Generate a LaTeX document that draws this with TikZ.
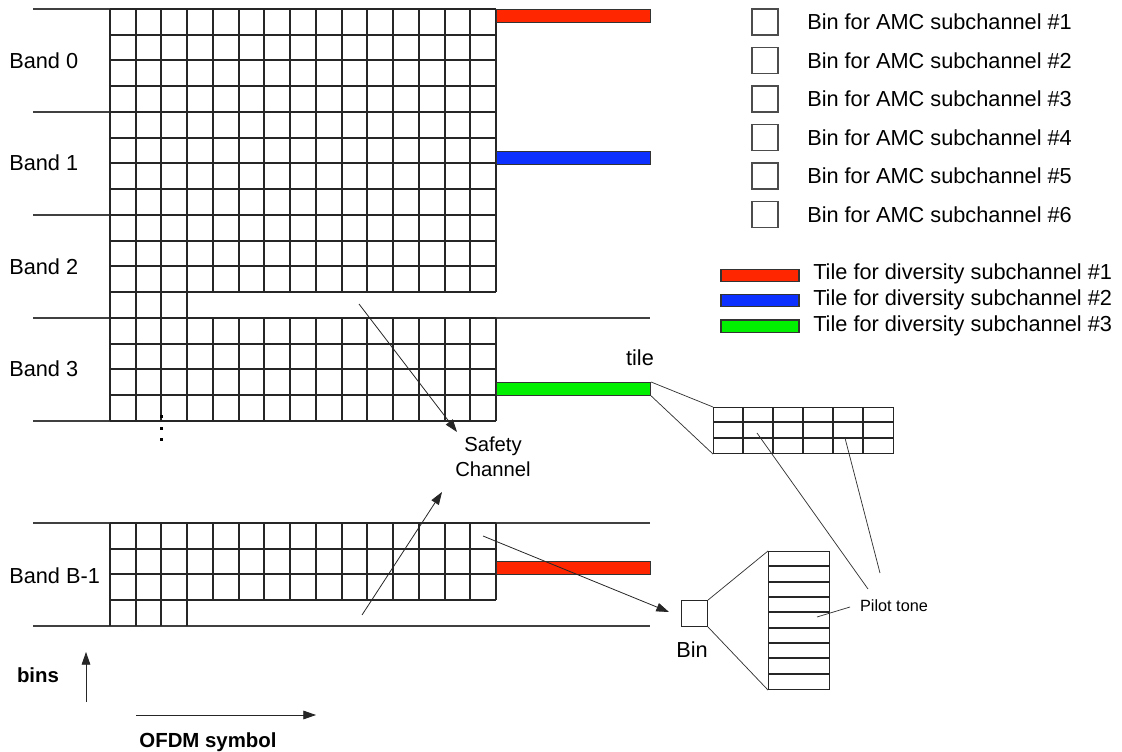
\documentclass[tikz,border=0pt]{standalone}
\usepackage{fontspec}
\setmainfont{Liberation Sans}
\usepackage{xcolor}
\definecolor{tilered}{RGB}{255,38,0}
\definecolor{tileblue}{RGB}{12,48,255}
\definecolor{tilegreen}{RGB}{0,240,0}
\usepackage{tikz}
\usetikzlibrary{
    arrows.meta,
    positioning
}
\tikzset{
    cellgrid/.style  = {draw=black!85, line width=0.95pt},
    bandline/.style  = {draw=black!75, line width=0.8pt},
    tilebar/.style   = {rectangle, draw=black!80, line width=0.8pt, inner sep=0pt,
                        minimum width=115.5pt, minimum height=9.6pt, anchor=north west},
    legbar/.style    = {rectangle, draw=black!80, line width=0.8pt, inner sep=0pt,
                        minimum width=58.5pt, minimum height=9.4pt},
    legbox/.style    = {rectangle, draw=black!70, line width=0.8pt, inner sep=0pt,
                        minimum size=19.5pt},
    zoombox/.style   = {rectangle, draw=black!85, line width=0.8pt, inner sep=0pt,
                        anchor=north west},
    zoomgrid/.style  = {draw=black!85, line width=0.8pt},
    zoomline/.style  = {draw=black!80, line width=0.55pt},
    thinarrow/.style = {-{Triangle[length=9.5pt,width=6.5pt]}, draw=black!85,
                        line width=0.6pt}
}
\newcommand\cellsz{25.733}

\begin{document}
\begin{tikzpicture}[
    x=0.75pt, y=-0.75pt,
    lbl/.style     = {font=\fontsize{16.3}{19}\selectfont, inner sep=0pt},
    leglbl/.style  = {font=\fontsize{16.3}{19}\selectfont, inner sep=0pt, anchor=west},
    axislbl/.style = {font=\fontsize{15.3}{18}\selectfont\bfseries, inner sep=0pt}
]
\useasboundingbox (0,0) rectangle (1122,752);

% --- Band separators ---
\foreach \yy in {9, 112, 215, 421}
   \draw[bandline] (33,\yy) -- (110,\yy);
\foreach \yy in {318, 523, 626}
   \draw[bandline] (33,\yy) -- (650,\yy);

% --- Bins of bands 0 to 3 ---
\foreach \r [evaluate=\r as \gy using {round(9+\r*\cellsz)}] in {0,...,16}
   \draw[cellgrid] (110,\gy) -- (496,\gy);
\foreach \c [evaluate=\c as \gx using {round(110+\c*\cellsz)}] in {0,...,15} {
   \draw[cellgrid] (\gx,9) -- (\gx,292);
   \draw[cellgrid] (\gx,318) -- (\gx,421);
}
\foreach \c [evaluate=\c as \gx using {round(110+\c*\cellsz)}] in {0,...,3}
   \draw[cellgrid] (\gx,292) -- (\gx,318);

% --- Bins of band B-1 ---
\foreach \r [evaluate=\r as \gy using {round(523+\r*\cellsz)}] in {0,...,3}
   \draw[cellgrid] (110,\gy) -- (496,\gy);
\foreach \c [evaluate=\c as \gx using {round(110+\c*\cellsz)}] in {0,...,15}
   \draw[cellgrid] (\gx,523) -- (\gx,600);
\foreach \c [evaluate=\c as \gx using {round(110+\c*\cellsz)}] in {0,...,3}
   \draw[cellgrid] (\gx,600) -- (\gx,626);

% --- More bands ---
\foreach \yy in {417, 428.5, 440}
   \fill[black] (159.5,\yy-1.5) rectangle (162.5,\yy+1.5);

% --- Band labels ---
\node[lbl, anchor=west] (band0) at (9,61)  {Band 0};
\node[lbl, anchor=west] (band1) at (9,163) {Band 1};
\node[lbl, anchor=west] (band2) at (9,267) {Band 2};
\node[lbl, anchor=west] (band3) at (9,369) {Band 3};
\node[lbl, anchor=west] (bandB) at (9,576) {Band B-1};

% --- Diversity tiles ---
\node[tilebar, fill=tilered]   (bar0) at (496,9)   {};
\node[tilebar, fill=tileblue]  (bar1) at (496,151) {};
\node[tilebar, fill=tilegreen] (bar3) at (496,382) {};
\node[tilebar, fill=tilered]   (barB) at (496,561) {};
\node[lbl] (tile) at (640,358) {tile};

% --- Tile detail ---
\node[zoombox, minimum width=135pt, minimum height=34.5pt] (tilezoom) at (713,407) {};
\foreach \c in {1,...,5}
   \draw[zoomgrid] (713+\c*30,407) -- (713+\c*30,453);
\draw[zoomgrid] (713,422) -- (893,422);
\draw[zoomgrid, line width=1.4pt] (713,438) -- (893,438);
\draw[zoomline] (bar3.north east) -- (tilezoom.north west);
\draw[zoomline] (bar3.south east) -- (tilezoom.south west);

% --- Bin detail ---
\node[zoombox, minimum size=19.5pt] (bin) at (681,600) {};
\node[lbl] (binlbl) at (692,650) {Bin};
\node[zoombox, minimum width=45.75pt, minimum height=103.5pt] (binzoom) at (768,551) {};
\foreach \r [evaluate=\r as \gy using {round(551+\r*15.33)}] in {1,...,8}
   \draw[zoomgrid] (768,\gy) -- (829,\gy);
\draw[zoomline] (bin.north east) -- (binzoom.north west);
\draw[zoomline] (bin.south east) -- (binzoom.south west);

% --- Pilot tones ---
\node[font=\fontsize{12.2}{14}\selectfont, inner sep=0pt] (pilot) at (894,606) {Pilot tone};
\coordinate (ptBin)    at (817,617);
\coordinate (ptBinE)   at (850,607);
\coordinate (ptTileA)  at (757,433);
\coordinate (ptTileAE) at (868,589);
\coordinate (ptTileB)  at (845,438);
\coordinate (ptTileBE) at (880,573);
\draw[zoomline] (ptBin) -- (ptBinE);
\draw[zoomline] (ptTileA) -- (ptTileAE);
\draw[zoomline] (ptTileB) -- (ptTileBE);

% --- Safety channel ---
\node[font=\fontsize{15.2}{18.75}\selectfont, align=center, inner sep=0pt]
   (safety) at (493,457) {Safety\\Channel};
\coordinate (scTop)    at (359,304);
\coordinate (scTopTip) at (457,432);
\coordinate (scBot)    at (362,615);
\coordinate (scBotTip) at (442,492);
\draw[thinarrow] (scTop) -- (scTopTip);
\draw[thinarrow] (scBot) -- (scBotTip);

% --- Bin pointer ---
\coordinate (binFrom) at (483,536);
\coordinate (binTip)  at (669,612);
\draw[thinarrow] (binFrom) -- (binTip);

% --- Axes ---
\node[axislbl] (bins) at (38,675)  {bins};
\node[axislbl] (ofdm) at (208,742) {OFDM symbol};
\coordinate (binsFrom) at (86,702);
\coordinate (binsTo)   at (86,652);
\coordinate (ofdmFrom) at (136,715);
\coordinate (ofdmTo)   at (316,715);
\draw[thinarrow] (binsFrom) -- (binsTo);
\draw[thinarrow] (ofdmFrom) -- (ofdmTo);

% --- Legend: AMC bins ---
\foreach \k in {1,...,6} {
   \node[legbox] (amcbox\k) at (765,22+38.5*\k-38.5) {};
   \node[leglbl] (amctxt\k) at (807,22+38.5*\k-38.5) {Bin for AMC subchannel \#\k};
}

% --- Legend: diversity tiles ---
\node[legbar, fill=tilered]   (legbar1) at (760,275.5) {};
\node[legbar, fill=tileblue]  (legbar2) at (760,300.5) {};
\node[legbar, fill=tilegreen] (legbar3) at (760,326.3) {};
\node[leglbl] (divtxt1) at (813,274) {Tile for diversity subchannel \#1};
\node[leglbl] (divtxt2) at (813,300) {Tile for diversity subchannel \#2};
\node[leglbl] (divtxt3) at (813,326) {Tile for diversity subchannel \#3};

\end{tikzpicture}
\end{document}
